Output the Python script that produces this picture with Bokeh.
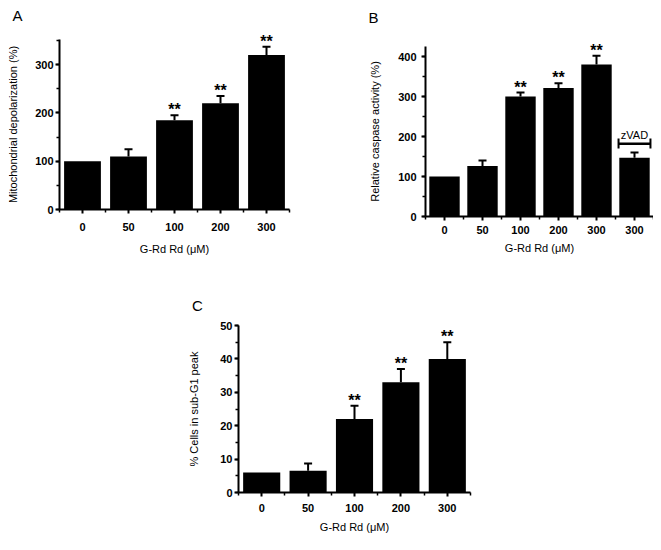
from bokeh.plotting import figure
from bokeh.models import (FixedTicker, SingleIntervalTicker, Range1d, Whisker,
                          ColumnDataSource, Spacer, TeeHead, LinearAxis, Label)
from bokeh.layouts import column, row
from bokeh.embed import file_html
from bokeh.resources import INLINE
from bokeh.core.properties import value

FONT = "Liberation Sans"

# ---------------- data ----------------
# Panel A
a_labels = ["0", "50", "100", "200", "300"]
a_values = [100, 110, 185, 220, 320]
a_err_hi = [100, 125, 195, 235, 337]
a_stars = ["", "", "**", "**", "**"]

# Panel B
b_labels = ["0", "50", "100", "200", "300", "300"]
b_values = [100, 126, 300, 321, 380, 147]
b_err_hi = [100, 140, 310, 333, 402, 160]
b_stars = ["", "", "**", "**", "**", ""]
zvad_text = "zVAD"
zvad_index = 5
zvad_bracket_y = 182
zvad_cap_lo = 170
zvad_cap_hi = 195

# Panel C
c_labels = ["0", "50", "100", "200", "300"]
c_values = [6, 6.5, 22, 33, 40]
c_err_hi = [6, 8.7, 26, 37, 45]
c_stars = ["", "", "**", "**", "**"]

xlabel = "G-Rd Rd (\u03bcM)"


def make_panel(labels, values, err_hi, stars, axis_top, interval, ylabel,
               letter, W, H, frame, letter_xy, xtick_so, xlabel_so,
               ytick_so, ylabel_so):
    """frame = (left, right, y0, top) pixel positions of the axes inside the canvas"""
    n = len(labels)
    xs = list(range(n))
    L, R, Y0, T = frame
    pxx = (R - L) / n
    pxy = (Y0 - T) / axis_top
    x_range = Range1d(-0.5 - L / pxx, n - 0.5 + (W - R) / pxx)
    y_range = Range1d(-(H - Y0) / pxy, axis_top + T / pxy)
    p = figure(width=W, height=H, output_backend="svg", toolbar_location=None,
               x_range=x_range, y_range=y_range,
               x_axis_location=None, y_axis_location=None, min_border=0)
    p.outline_line_color = None
    p.xgrid.visible = False
    p.ygrid.visible = False
    p.background_fill_color = "white"
    p.border_fill_color = "white"

    p.vbar(x=xs, top=values, width=0.8, bottom=0, fill_color="black",
           line_color=None)

    ex = [x for x, v, e in zip(xs, values, err_hi) if e > v]
    elo = [v for v, e in zip(values, err_hi) if e > v]
    ehi = [e for v, e in zip(values, err_hi) if e > v]
    src = ColumnDataSource(dict(x=ex, lo=elo, hi=ehi))
    w = Whisker(base="x", lower="lo", upper="hi", source=src,
                line_color="black", line_width=2,
                upper_head=TeeHead(size=8, line_color="black", line_width=2),
                lower_head=None)
    p.add_layout(w)

    p.text(x=xs, y=err_hi, text=stars, text_font=value(FONT),
           text_font_style="bold", text_font_size="16px",
           text_align="center", text_baseline="bottom", y_offset=3,
           text_color="black")

    xa = LinearAxis(fixed_location=0, bounds=(-0.5, n - 0.5),
                    ticker=FixedTicker(ticks=xs,
                                       minor_ticks=[x - 0.5 for x in xs] + [n - 0.5]))
    xa.major_label_overrides = {i: l for i, l in enumerate(labels)}
    ya = LinearAxis(fixed_location=-0.5, bounds=(0, axis_top),
                    ticker=SingleIntervalTicker(interval=interval, num_minor_ticks=2))
    for ax in (xa, ya):
        ax.axis_line_width = 2
        ax.axis_line_color = "black"
        ax.major_tick_out = 4
        ax.major_tick_in = 0
        ax.minor_tick_out = 3
        ax.minor_tick_in = 0
        ax.major_tick_line_width = 2
        ax.minor_tick_line_width = 1.5
        ax.major_label_text_font = FONT
        ax.major_label_text_font_style = "bold"
        ax.major_label_text_font_size = "11px"
        ax.major_label_text_color = "black"
        ax.axis_label_text_font = FONT
        ax.axis_label_text_font_style = "normal"
        ax.axis_label_text_font_size = "11px"
        ax.axis_label_text_color = "black"
    xa.axis_label = xlabel
    xa.major_label_standoff = xtick_so
    xa.axis_label_standoff = xlabel_so
    ya.axis_label = ylabel
    ya.major_label_standoff = ytick_so
    ya.axis_label_standoff = ylabel_so
    p.add_layout(xa, "below")
    p.add_layout(ya, "left")

    p.add_layout(Label(x=letter_xy[0], y=H - letter_xy[1],
                       x_units="screen", y_units="screen", text=letter,
                       text_font=FONT, text_font_size="15px",
                       text_align="center", text_baseline="middle",
                       text_color="black"))
    return p


pA = make_panel(a_labels, a_values, a_err_hi, a_stars, 352, 100,
                "Mitochondrial depolarization (%)", "A",
                322, 270, (51, 281, 201, 31), (9, 7), 9, 9, 2, 13)

pB = make_panel(b_labels, b_values, b_err_hi, b_stars, 425, 100,
                "Relative caspase activity (%)", "B",
                323, 270, (95, 323, 208, 38), (43, 9), 5, 5, 5, 14)
# zVAD bracket
pB.segment(x0=[zvad_index - 0.42], y0=[zvad_bracket_y],
           x1=[zvad_index + 0.42], y1=[zvad_bracket_y],
           line_color="black", line_width=2.5)
pB.segment(x0=[zvad_index - 0.42, zvad_index + 0.42],
           y0=[zvad_cap_lo, zvad_cap_lo],
           x1=[zvad_index - 0.42, zvad_index + 0.42],
           y1=[zvad_cap_hi, zvad_cap_hi],
           line_color="black", line_width=2)
pB.text(x=[zvad_index], y=[zvad_cap_hi], text=[zvad_text],
        text_font=value(FONT), text_font_size="11px", text_align="center",
        text_baseline="bottom", y_offset=2, text_color="black")

pC = make_panel(c_labels, c_values, c_err_hi, c_stars, 50, 10,
                "% Cells in sub-G1 peak", "C",
                330, 264, (88, 320, 214, 47), (47, 27), 7, 6, 2, 17)

grid = column(row(pA, pB), row(Spacer(width=142, height=264), pC))
layout = column(Spacer(width=653, height=8), row(Spacer(width=8, height=534), grid))
open("out.html", "w").write(file_html(layout, INLINE))
